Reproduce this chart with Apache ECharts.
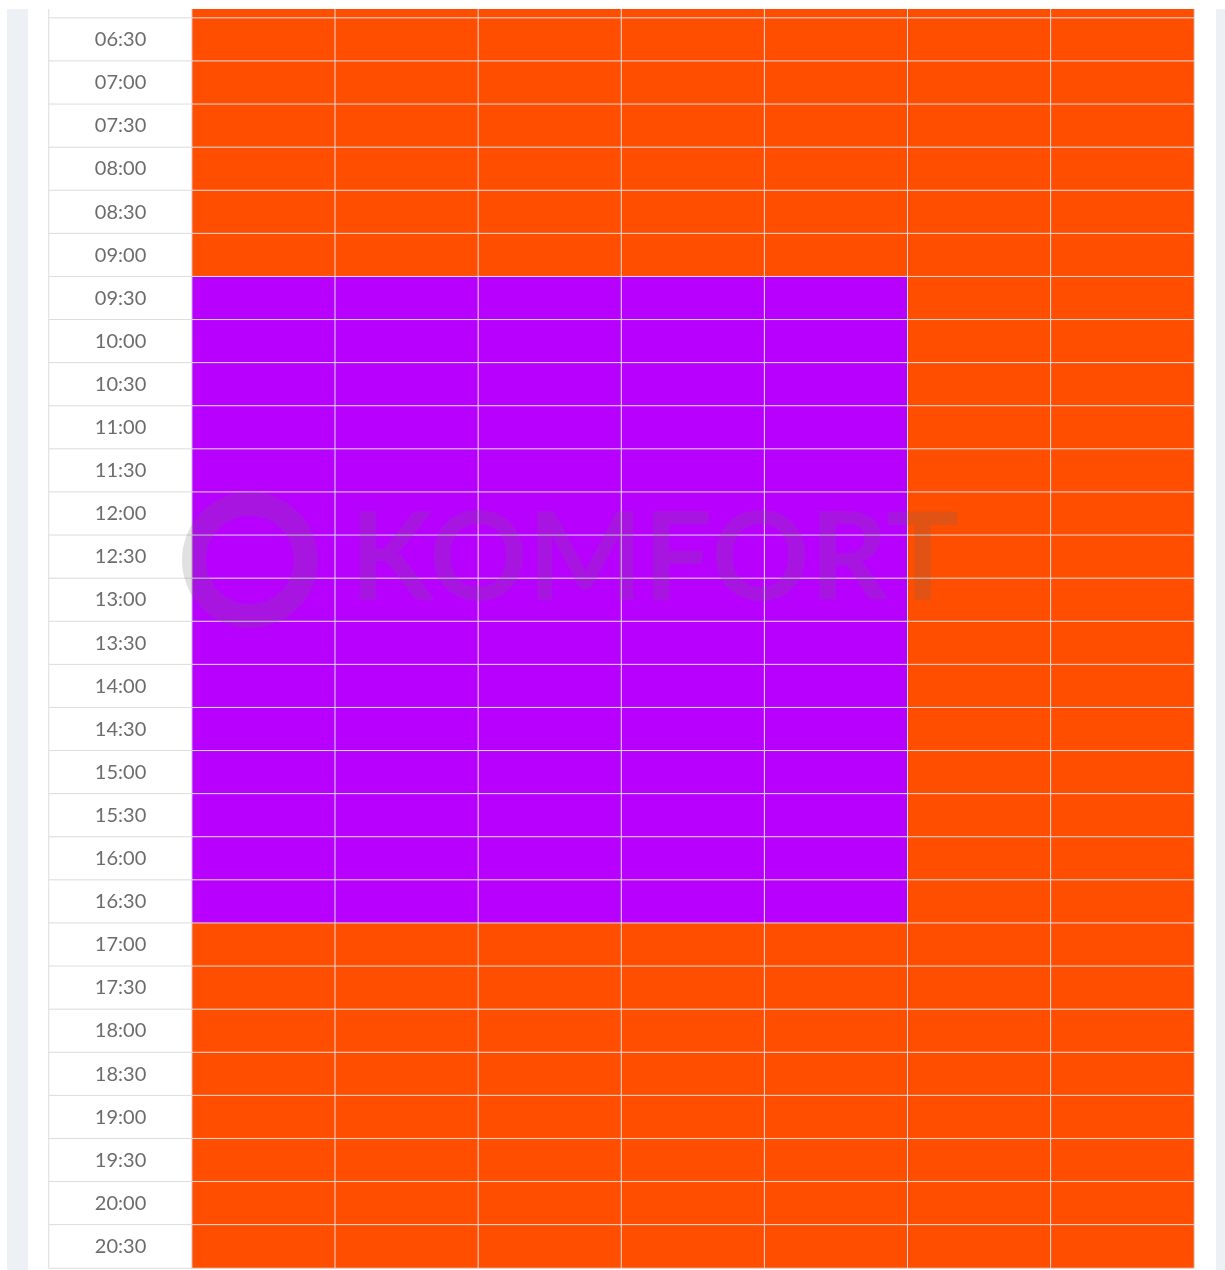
<!DOCTYPE html>
<html>
<head>
<meta charset="utf-8">
<script src="https://cdn.jsdelivr.net/npm/echarts@6/dist/echarts.min.js"></script>
<style>
  html, body { margin: 0; padding: 0; background: #fff; overflow: hidden; }
  /* the table is scrolled: the 06:00 row is cut at the top */
  #chart { width: 1225px; height: 1295px; margin-top: -25px; }
</style>
</head>
<body>
<div id="chart"></div>
<script>
// time slots (06:00 row is only partly visible at the top)
const times = ['06:00', '06:30', '07:00', '07:30', '08:00', '08:30', '09:00', '09:30',
  '10:00', '10:30', '11:00', '11:30', '12:00', '12:30', '13:00', '13:30', '14:00',
  '14:30', '15:00', '15:30', '16:00', '16:30', '17:00', '17:30', '18:00', '18:30',
  '19:00', '19:30', '20:00', '20:30'];
const days = ['Mo', 'Di', 'Mi', 'Do', 'Fr', 'Sa', 'So'];

// 1 = orange slot, 2 = purple slot
const weekday = [1, 1, 1, 1, 1, 1, 1, 2, 2, 2, 2, 2, 2, 2, 2, 2, 2, 2, 2, 2, 2, 2, 1, 1, 1, 1, 1, 1, 1, 1];
const weekend = [1, 1, 1, 1, 1, 1, 1, 1, 1, 1, 1, 1, 1, 1, 1, 1, 1, 1, 1, 1, 1, 1, 1, 1, 1, 1, 1, 1, 1, 1];
const schedule = [weekday, weekday, weekday, weekday, weekday, weekend, weekend];

let data = [];
times.forEach((t, row) => {
  data.push([0, row, 0]); // time label column
  schedule.forEach((col, d) => {
    data.push([d + 1, row, col[row]]);
  });
});

const shift = 25; // chart is moved up by this much

let chart = echarts.init(document.getElementById('chart'));
chart.setOption({
  animation: false,
  grid: { left: 49, right: 31, top: 0, bottom: 2 },
  xAxis: { type: 'category', data: [''].concat(days), show: false },
  yAxis: { type: 'category', data: times, inverse: true, show: false },
  visualMap: {
    type: 'piecewise',
    show: false,
    dimension: 2,
    pieces: [
      { value: 0, color: '#ffffff' },
      { value: 1, color: '#FF4E00' },
      { value: 2, color: '#B800FF' }
    ]
  },
  series: [
    {
      type: 'heatmap',
      data: data,
      itemStyle: { borderColor: '#dcdcdc', borderWidth: 1 },
      label: {
        show: true,
        color: '#6c6c6c',
        fontFamily: 'Lato',
        fontSize: 20,
        formatter: p => (p.value[0] === 0 ? times[p.value[1]] : '')
      },
      emphasis: { disabled: true }
    }
  ],
  graphic: [
    { type: 'rect', left: 0, top: 0, shape: { width: 1225, height: shift + 9 }, style: { fill: '#ffffff' }, z: 95 },
    { type: 'rect', left: 7, top: shift + 9, shape: { width: 21, height: 1270 }, style: { fill: '#EDF1F6' }, z: 90 },
    { type: 'rect', left: 1216, top: shift + 9, shape: { width: 9, height: 1270 }, style: { fill: '#EDF1F6' }, z: 90 },
    // watermark
    { type: 'ring', shape: { cx: 250, cy: 560 + shift, r: 68, r0: 44 }, style: { fill: 'rgba(105,105,105,0.2)' }, z: 100 },
    {
      type: 'text', x: 350, y: 561 + shift, z: 100,
      style: {
        text: 'KOMFORT',
        fill: 'rgba(105,105,105,0.2)',
        font: 'bold 122px Lato',
        verticalAlign: 'middle'
      }
    }
  ]
});
window.onresize = chart.resize;
</script>
</body>
</html>
